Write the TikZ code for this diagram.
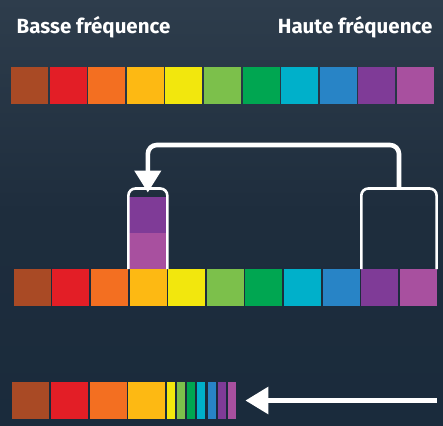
\documentclass[tikz,border=0pt]{standalone}
\usepackage{fontspec}
\setmainfont{Fira Sans}
\usetikzlibrary{arrows.meta}
\definecolor{cbrown}{HTML}{A94A25}
\definecolor{cred}{HTML}{E31E26}
\definecolor{corange}{HTML}{F36F21}
\definecolor{camber}{HTML}{FDB913}
\definecolor{cyellow}{HTML}{F2E70D}
\definecolor{clgreen}{HTML}{7CC04B}
\definecolor{cgreen}{HTML}{00A651}
\definecolor{ccyan}{HTML}{00B0CA}
\definecolor{cblue}{HTML}{2884C6}
\definecolor{cpurple}{HTML}{7F3B97}
\definecolor{cmagenta}{HTML}{A8509F}
\definecolor{bgtop}{HTML}{2E3D4C}
\definecolor{bgmid}{HTML}{1E2D3D}
\definecolor{bgbot}{HTML}{1A2B3C}
\tikzset{
  sq/.style={fill=#1, draw=none, inner sep=0pt, outer sep=0pt, minimum width=37pt, minimum height=37pt, anchor=north west},
  bar/.style={fill=#1, draw=none, inner sep=0pt, outer sep=0pt, minimum width=8.3pt, minimum height=36.7pt, anchor=north west},
  bracket/.style={draw=white, line width=2.6pt, rounded corners=7pt},
  bigarrow/.style={draw=white, line width=4.6pt, rounded corners=9pt, -{Triangle[width=26pt,length=22pt]}},
  lbl/.style={text=white, font=\bfseries\fontsize{20.5}{24}\selectfont, inner sep=0pt, anchor=base west}
}
\begin{document}
\begin{tikzpicture}[x=1pt,y=-1pt]
\useasboundingbox (0,0) rectangle (443,425);
\shade[top color=bgtop, bottom color=bgbot, middle color=bgmid] (0,0) rectangle (443,425);
% labels
\node[lbl] (low) at (16.5,33.3) {Basse fréquence};
\node[lbl, anchor=base east] (high) at (432.5,33.3) {Haute fréquence};
% row 1
\foreach \c [count=\i] in {cbrown,cred,corange,camber,cyellow,clgreen,cgreen,ccyan,cblue,cpurple,cmagenta}{
  \node[sq=\c] (a\i) at ({11+(\i-1)*38.6},66.7) {};
}
% row 2
\foreach \c [count=\i] in {cbrown,cred,corange,camber,cyellow,clgreen,cgreen,ccyan,cblue,cpurple,cmagenta}{
  \node[sq=\c] (b\i) at ({13.7+(\i-1)*38.6},269) {};
}
\node[sq=cpurple, minimum height=36pt] (sp) at (129,196.7) {};
\node[sq=cmagenta, minimum height=36.5pt] (sm) at (129,232.6) {};
% brackets
\coordinate (lbt) at (147.8,188.5);
\coordinate (rbt) at (399,188.5);
\draw[bracket] (128.4,269) -- (128.4,188.5) -- (167.3,188.5) -- (167.3,269);
\draw[bracket] (361.3,269) -- (361.3,188.5) -- (436.6,188.5) -- (436.6,269);
\draw[bigarrow] (rbt) -- (399,145) -- (147.8,145) -- ([yshift=-4pt]lbt);
% row 3
\foreach \c/\x [count=\i] in {cbrown/12,cred/51,corange/89.7,camber/128.3}{
  \node[sq=\c, minimum height=36.7pt] (c\i) at (\x,382) {};
}
\foreach \c/\x [count=\i from 5] in {cyellow/166.7,clgreen/177,cgreen/187,ccyan/197,cblue/207.8,cpurple/218,cmagenta/228}{
  \node[bar=\c] (c\i) at (\x,382) {};
}
\coordinate (tail) at (436.7,400.5);
\draw[white, line width=5.6pt, -{Triangle[width=26pt,length=23pt]}] (tail) -- ([xshift=9pt]c11.east |- tail);
\end{tikzpicture}
\end{document}
